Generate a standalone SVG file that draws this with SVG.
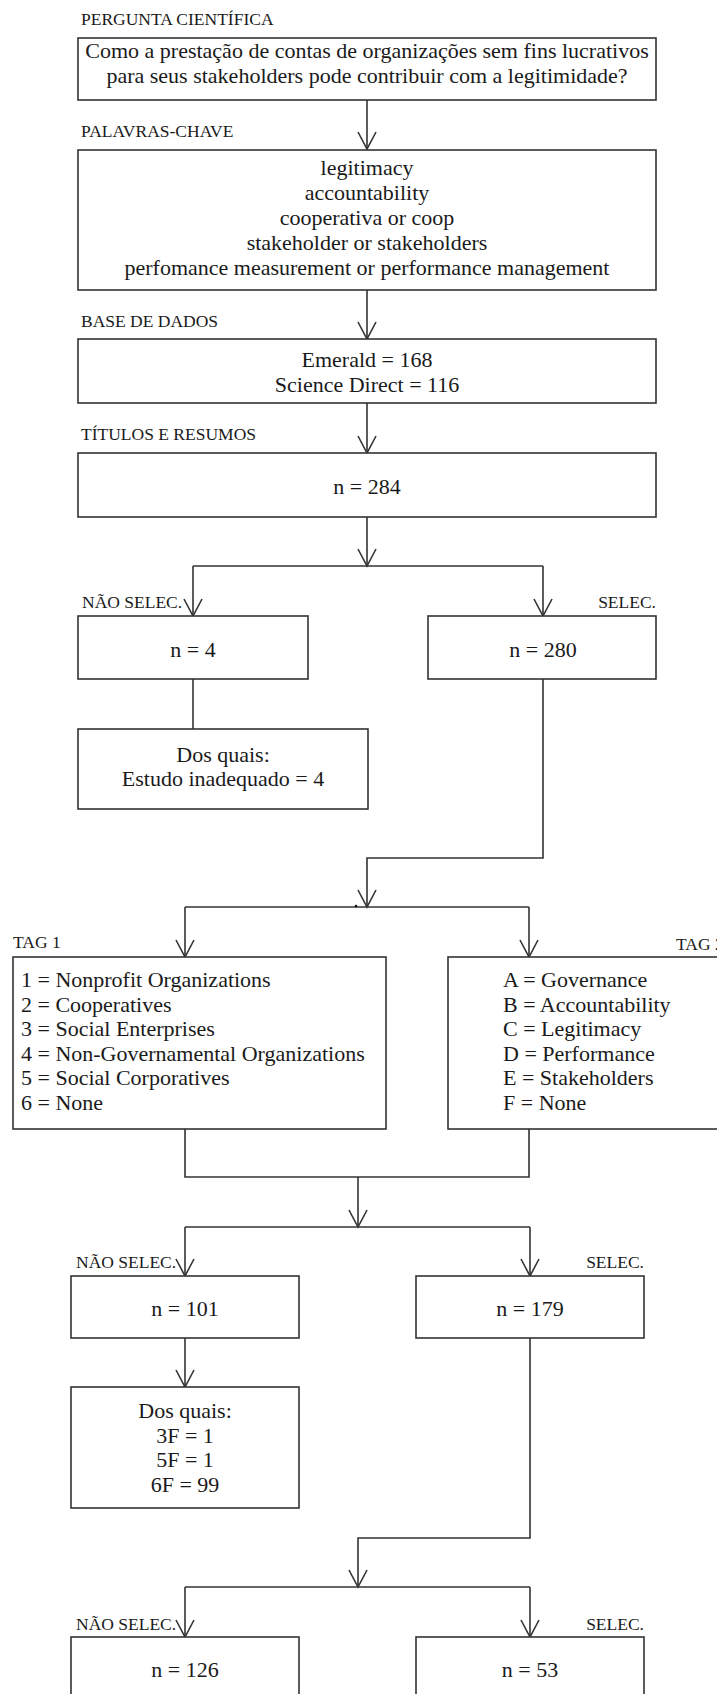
<svg xmlns="http://www.w3.org/2000/svg" width="717" height="1694" viewBox="0 0 717 1694">
<defs>
<style>
.box{fill:#fff;stroke:#333;stroke-width:1.6}
.ln{fill:none;stroke:#333;stroke-width:1.6}
.t{font-family:"Liberation Serif","Times New Roman",serif;font-size:22px;fill:#1a1a1a}
.c{text-anchor:middle}
.lb{font-family:"Liberation Serif","Times New Roman",serif;font-size:17.5px;fill:#1a1a1a}
.e{text-anchor:end}
</style>
<marker id="arr" viewBox="0 0 20 20" refX="18" refY="10" markerWidth="20" markerHeight="20" markerUnits="userSpaceOnUse" orient="auto">
<path d="M1,1 L18,10 L1,19" fill="none" stroke="#333" stroke-width="1.6"/>
</marker>
</defs>
<rect width="717" height="1694" fill="#fff"/>

<g id="connectors">
<path class="ln" d="M367,100 V149" marker-end="url(#arr)"/>
<path class="ln" d="M367,290 V339" marker-end="url(#arr)"/>
<path class="ln" d="M367,403 V453" marker-end="url(#arr)"/>
<path class="ln" d="M367,517 V566" marker-end="url(#arr)"/>
<path class="ln" d="M193,566 H543"/>
<path class="ln" d="M193,566 V616" marker-end="url(#arr)"/>
<path class="ln" d="M543,566 V616" marker-end="url(#arr)"/>
<path class="ln" d="M193,679 V729"/>
<path class="ln" d="M543,679 V858 H367 V907" marker-end="url(#arr)"/>
<path class="ln" d="M185,907 H529"/>
<circle cx="356" cy="906" r="1.3" fill="#111"/>
<path class="ln" d="M185,907 V957" marker-end="url(#arr)"/>
<path class="ln" d="M529,907 V957" marker-end="url(#arr)"/>
<path class="ln" d="M185,1129 V1177 H529 V1129"/>
<path class="ln" d="M358,1177 V1227" marker-end="url(#arr)"/>
<path class="ln" d="M185,1227 H530"/>
<path class="ln" d="M185,1227 V1276" marker-end="url(#arr)"/>
<path class="ln" d="M530,1227 V1276" marker-end="url(#arr)"/>
<path class="ln" d="M185,1338 V1387" marker-end="url(#arr)"/>
<path class="ln" d="M530,1338 V1538 H358 V1587" marker-end="url(#arr)"/>
<path class="ln" d="M185,1587 H530"/>
<path class="ln" d="M185,1587 V1637" marker-end="url(#arr)"/>
<path class="ln" d="M530,1587 V1637" marker-end="url(#arr)"/>
</g>

<g id="n-pergunta">
<text class="lb" x="81" y="25">PERGUNTA CIENTÍFICA</text>
<rect class="box" x="78" y="38" width="578" height="62"/>
<text class="t c" x="367" y="58">Como a prestação de contas de organizações sem fins lucrativos</text>
<text class="t c" x="367" y="83">para seus stakeholders pode contribuir com a legitimidade?</text>
</g>

<g id="n-palavras">
<text class="lb" x="81" y="137">PALAVRAS-CHAVE</text>
<rect class="box" x="78" y="150" width="578" height="140"/>
<text class="t c" x="367" y="175">legitimacy</text>
<text class="t c" x="367" y="200">accountability</text>
<text class="t c" x="367" y="225">cooperativa or coop</text>
<text class="t c" x="367" y="250">stakeholder or stakeholders</text>
<text class="t c" x="367" y="275">perfomance measurement or performance management</text>
</g>

<g id="n-base">
<text class="lb" x="81" y="327">BASE DE DADOS</text>
<rect class="box" x="78" y="339" width="578" height="64"/>
<text class="t c" x="367" y="367">Emerald = 168</text>
<text class="t c" x="367" y="392">Science Direct = 116</text>
</g>

<g id="n-titulos">
<text class="lb" x="81" y="440">TÍTULOS E RESUMOS</text>
<rect class="box" x="78" y="453" width="578" height="64"/>
<text class="t c" x="367" y="494">n = 284</text>
</g>

<g id="n-naosel1">
<text class="lb" x="82" y="608">NÃO SELEC.</text>
<rect class="box" x="78" y="616" width="230" height="63"/>
<text class="t c" x="193" y="657">n = 4</text>
</g>

<g id="n-sel1">
<text class="lb e" x="656" y="608">SELEC.</text>
<rect class="box" x="428" y="616" width="228" height="63"/>
<text class="t c" x="543" y="657">n = 280</text>
</g>

<g id="n-dosquais1">
<rect class="box" x="78" y="729" width="290" height="80"/>
<text class="t c" x="223" y="762">Dos quais:</text>
<text class="t c" x="223" y="786">Estudo inadequado = 4</text>
</g>

<g id="n-tag1">
<text class="lb" x="13" y="948">TAG 1</text>
<rect class="box" x="13" y="957" width="373" height="172"/>
<text class="t" x="21" y="987">1 = Nonprofit Organizations</text>
<text class="t" x="21" y="1011.5">2 = Cooperatives</text>
<text class="t" x="21" y="1036">3 = Social Enterprises</text>
<text class="t" x="21" y="1060.5">4 = Non-Governamental Organizations</text>
<text class="t" x="21" y="1085">5 = Social Corporatives</text>
<text class="t" x="21" y="1109.5">6 = None</text>
</g>

<g id="n-tag2">
<text class="lb" x="676" y="950">TAG 2</text>
<rect class="box" x="448" y="957" width="290" height="172"/>
<text class="t" x="503" y="987">A = Governance</text>
<text class="t" x="503" y="1011.5">B = Accountability</text>
<text class="t" x="503" y="1036">C = Legitimacy</text>
<text class="t" x="503" y="1060.5">D = Performance</text>
<text class="t" x="503" y="1085">E = Stakeholders</text>
<text class="t" x="503" y="1109.5">F = None</text>
</g>

<g id="n-naosel2">
<text class="lb" x="76" y="1268">NÃO SELEC.</text>
<rect class="box" x="71" y="1276" width="228" height="62"/>
<text class="t c" x="185" y="1316">n = 101</text>
</g>

<g id="n-sel2">
<text class="lb e" x="644" y="1268">SELEC.</text>
<rect class="box" x="416" y="1276" width="228" height="62"/>
<text class="t c" x="530" y="1316">n = 179</text>
</g>

<g id="n-dosquais2">
<rect class="box" x="71" y="1387" width="228" height="121"/>
<text class="t c" x="185" y="1418">Dos quais:</text>
<text class="t c" x="185" y="1443">3F = 1</text>
<text class="t c" x="185" y="1467">5F = 1</text>
<text class="t c" x="185" y="1492">6F = 99</text>
</g>

<g id="n-naosel3">
<text class="lb" x="76" y="1630">NÃO SELEC.</text>
<rect class="box" x="71" y="1637" width="228" height="70"/>
<text class="t c" x="185" y="1677">n = 126</text>
</g>

<g id="n-sel3">
<text class="lb e" x="644" y="1630">SELEC.</text>
<rect class="box" x="416" y="1637" width="228" height="70"/>
<text class="t c" x="530" y="1677">n = 53</text>
</g>
</svg>
